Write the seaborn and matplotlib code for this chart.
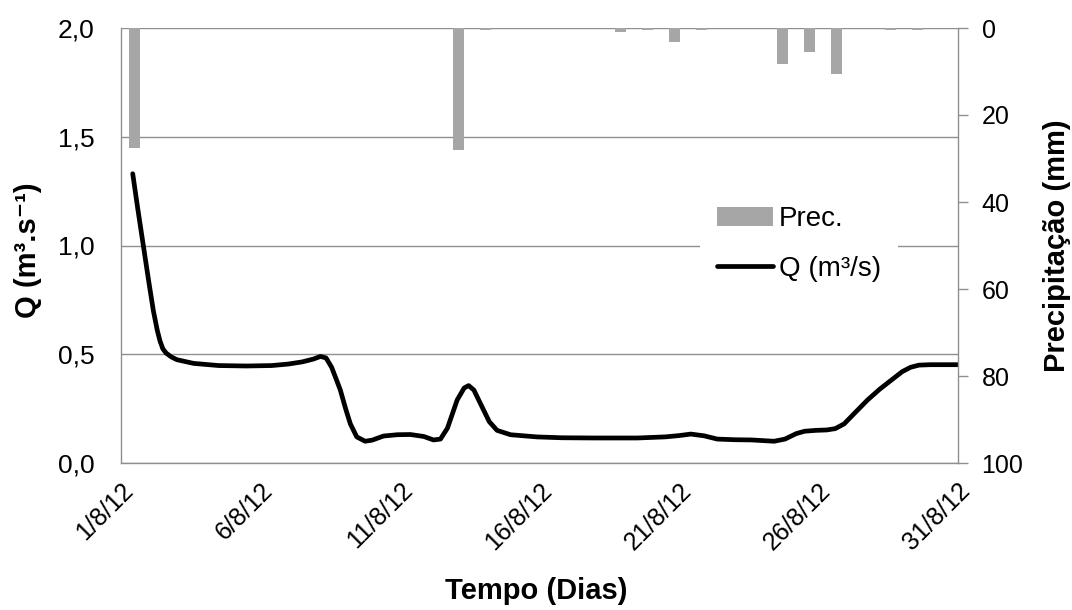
import numpy as np
import pandas as pd
import matplotlib
matplotlib.use("Agg")
import matplotlib.pyplot as plt
import seaborn as sns

# ---------------- data ----------------
# discharge Q (m3/s); time in days after 1/8/12 00:00
q_day = [0.42, 0.60, 0.80, 1.00, 1.16, 1.30, 1.40, 1.50, 1.62, 1.80, 2.0, 2.6, 3.5, 4.5, 5.4, 6.0,
         6.5, 6.9, 7.15, 7.35, 7.55, 7.7, 7.86, 8.05, 8.22, 8.45, 8.75, 9.0, 9.41, 9.9,
         10.37, 10.85, 11.2, 11.45, 11.7, 12.05, 12.3, 12.46, 12.65, 12.88, 13.2, 13.48,
         13.96, 14.9, 15.8, 17.0, 18.5, 19.5, 20.0, 20.42, 20.9, 21.37, 22.0, 22.6, 23.0,
         23.41, 23.8, 24.2, 24.5, 24.9, 25.3, 25.6, 25.92, 26.3, 26.76, 27.2, 27.6, 28.0,
         28.3, 28.6, 29.0, 30.0]
q_val = [1.33, 1.17, 1.00, 0.83, 0.70, 0.61, 0.56, 0.525, 0.505, 0.488, 0.475, 0.458, 0.448, 0.446,
         0.448, 0.455, 0.465, 0.478, 0.49, 0.483, 0.44, 0.39, 0.336, 0.25, 0.18, 0.12, 0.10,
         0.105, 0.124, 0.130, 0.131, 0.122, 0.106, 0.11, 0.16, 0.29, 0.345, 0.356, 0.335, 0.274,
         0.19, 0.15, 0.13, 0.12, 0.116, 0.115, 0.115, 0.12, 0.126, 0.133, 0.125, 0.11, 0.107,
         0.106, 0.103, 0.10, 0.11, 0.135, 0.146, 0.15, 0.152, 0.158, 0.18, 0.23, 0.29, 0.34,
         0.38, 0.42, 0.44, 0.45, 0.452, 0.452]

# daily precipitation (mm), 1/8 .. 31/8
prec_day = [f"{d}/8/12" for d in range(1, 32)]
prec_mm = [27.7, 0, 0, 0, 0, 0, 0, 0, 0, 0, 0, 0, 28.0, 0.5, 0, 0, 0, 0, 1.0, 0.4,
           3.3, 0.4, 0, 0, 8.2, 5.6, 10.6, 0, 0.4, 0.4, 0]

tick_days = [0, 5, 10, 15, 20, 25, 30]
tick_labels = ["1/8/12", "6/8/12", "11/8/12", "16/8/12", "21/8/12", "26/8/12", "31/8/12"]
q_ticks = [0.0, 0.5, 1.0, 1.5, 2.0]
q_tick_labels = ["0,0", "0,5", "1,0", "1,5", "2,0"]
p_ticks = [0, 20, 40, 60, 80, 100]

# ---------------- style ----------------
sns.set_theme(style="white")
plt.rcParams["font.family"] = ["Liberation Sans", "DejaVu Sans"]
plt.rcParams["text.color"] = "black"
plt.rcParams["axes.labelcolor"] = "black"

GRID = "#8f8f8f"
BAR = "#a6a6a6"
FS_L = 19      # left tick labels
FS_R = 18      # right tick labels
FS_X = 18      # x tick labels
FS_LAB = 21    # axis titles
FS_LEG = 20

fig = plt.figure(figsize=(10.72, 6.10), dpi=100)
rect = [121 / 1072, 1 - 463 / 610, (958 - 121) / 1072, (463 - 28) / 610]
ax = fig.add_axes(rect)
axb = fig.add_axes(rect)
axb.patch.set_visible(False)

df_q = pd.DataFrame({"t": q_day, "Q": q_val})
df_p = pd.DataFrame({"dia": prec_day, "P": prec_mm})

# line (primary axis)
sns.lineplot(data=df_q, x="t", y="Q", ax=ax, color="black", linewidth=3.4,
             label="Q (m³/s)", solid_capstyle="round", solid_joinstyle="round")
ax.set_xlim(0, 30)
ax.set_ylim(0, 2.0)
ax.set_yticks(q_ticks)
ax.set_yticklabels(q_tick_labels, fontsize=FS_L)
ax.set_xticks(tick_days)
ax.set_xticklabels(tick_labels, rotation=45, ha="right", rotation_mode="anchor", fontsize=FS_X)
for t in q_ticks:
    ax.axhline(t, color=GRID, lw=1.0, zorder=0)
ax.tick_params(axis="y", direction="out", length=7, width=1, color=GRID,
               labelcolor="black", pad=12)
ax.tick_params(axis="x", direction="out", length=7, width=1, color=GRID,
               labelcolor="black", pad=4)
for s in ["top", "right"]:
    ax.spines[s].set_visible(False)
for s in ["left", "bottom"]:
    ax.spines[s].set_color(GRID)
    ax.spines[s].set_linewidth(1.0)
ax.set_xlabel("Tempo (Dias)", fontsize=FS_LAB, fontweight="bold")
ax.set_ylabel("Q (m³.s⁻¹)", fontsize=FS_LAB, fontweight="bold")
ax.xaxis.set_label_coords(0.496, -0.262)
ax.yaxis.set_label_coords(-0.094, 0.49)

# bars (secondary axis, categorical)
sns.barplot(data=df_p, x="dia", y="P", ax=axb, color=BAR, width=0.4, saturation=1,
            linewidth=0, label="Prec.")
axb.set_xlim(-0.5, 30.5)
axb.set_ylim(100, 0)
axb.yaxis.tick_right()
axb.yaxis.set_label_position("right")
axb.set_yticks(p_ticks)
axb.set_yticklabels([str(v) for v in p_ticks], fontsize=FS_R)
axb.tick_params(axis="y", direction="out", length=7, width=1, color=GRID,
                labelcolor="black", pad=10)
axb.set_xticks([])
axb.set_xlabel("")
axb.set_ylabel("Precipitação (mm)", fontsize=FS_LAB, fontweight="bold")
axb.yaxis.set_label_coords(1.101, 0.5)
for s in ["top", "left", "bottom"]:
    axb.spines[s].set_visible(False)
axb.spines["right"].set_color(GRID)
axb.spines["right"].set_linewidth(1.0)

# legend
h1, l1 = axb.get_legend_handles_labels()
h2, l2 = ax.get_legend_handles_labels()
if ax.get_legend():
    ax.get_legend().remove()
if axb.get_legend():
    axb.get_legend().remove()
leg = axb.legend(h1 + h2, l1 + l2, loc="upper left", bbox_to_anchor=(0.675, 0.66),
                 frameon=True, fontsize=FS_LEG, handlelength=2.05, handletextpad=0.2,
                 labelspacing=0.85, borderpad=0.6, fancybox=False)
leg.get_frame().set_facecolor("white")
leg.get_frame().set_edgecolor("none")
leg.get_frame().set_alpha(1)

fig.savefig("out.png", dpi=100, facecolor="white")
